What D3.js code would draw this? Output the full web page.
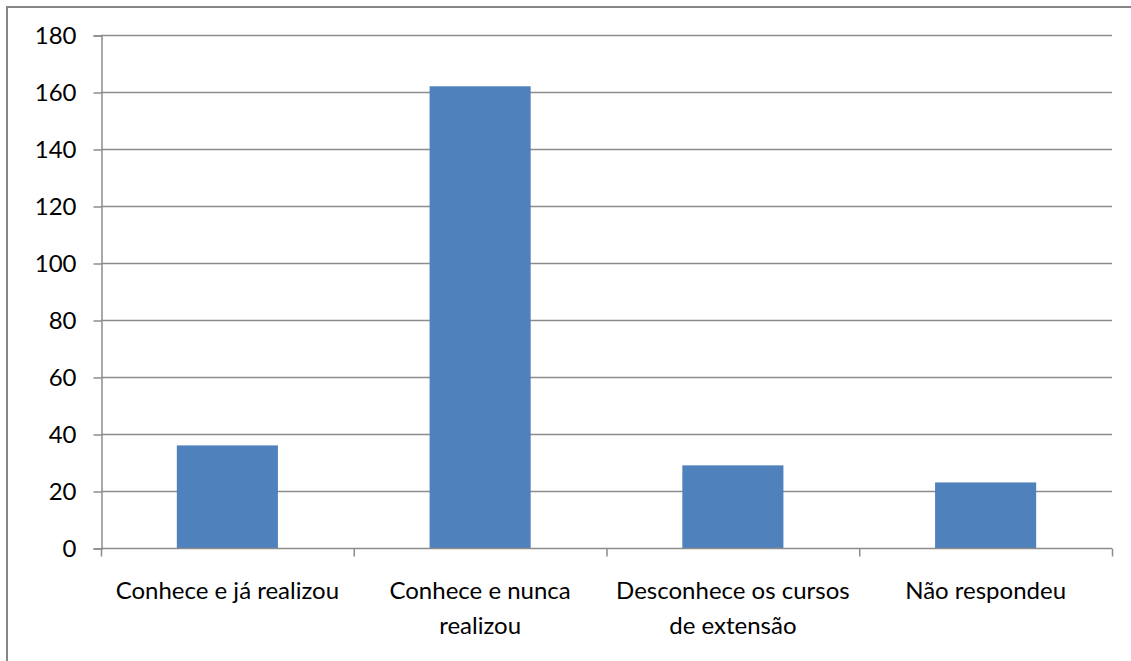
<!DOCTYPE html>
<html>
<head>
<meta charset="utf-8">
<script src="https://cdn.jsdelivr.net/npm/d3@7"></script>
<style>
  body { margin: 0; background: #fff; }
  svg text { font-family: Lato, "Open Sans", sans-serif; fill: #000; }
</style>
</head>
<body>
<div class="container"></div>
<script>
const categories = ["Conhece e já realizou", "Conhece e nunca realizou", "Desconhece os cursos de extensão", "Não respondeu"];
const labelLines = [["Conhece e já realizou"], ["Conhece e nunca", "realizou"], ["Desconhece os cursos", "de extensão"], ["Não respondeu"]];
const values = [36, 162, 29, 23];
const yTicks = [0, 20, 40, 60, 80, 100, 120, 140, 160, 180];

const W = 1131, H = 661;
const plot = { left: 101, right: 1112, top: 35, bottom: 548 };
const fontSize = 24;

const svg = d3.select(".container")
    .append("svg")
    .attr("width", W)
    .attr("height", H);

// outer frame
svg.append("rect")
    .attr("x", 7)
    .attr("y", 7)
    .attr("width", W + 10)
    .attr("height", H + 10)
    .attr("fill", "none")
    .attr("stroke", "#868686")
    .attr("stroke-width", 2);

const xScale = d3.scaleBand()
    .domain(categories)
    .range([plot.left, plot.right])
    .paddingInner(0.6)
    .paddingOuter(0.3);

const xOuter = d3.scaleBand()
    .domain(categories)
    .range([plot.left, plot.right]);

const yScale = d3.scaleLinear()
    .domain([0, 180])
    .range([plot.bottom, plot.top]);

// gridlines
svg.selectAll(".grid")
    .data(yTicks.filter(d => d > 0))
    .join("line")
    .classed("grid", true)
    .attr("x1", plot.left)
    .attr("x2", plot.right)
    .attr("y1", d => yScale(d) + 0.5)
    .attr("y2", d => yScale(d) + 0.5)
    .attr("stroke", "#8c8c8c")
    .attr("stroke-width", 1.5);

// bars
svg.selectAll(".bars")
    .data(values)
    .join("rect")
    .classed("bars", true)
    .attr("x", (d, i) => xScale(categories[i]))
    .attr("y", d => yScale(d))
    .attr("width", xScale.bandwidth())
    .attr("height", d => plot.bottom - yScale(d))
    .attr("fill", "#4f81bd");

// y axis
const yAxis = svg.append("g")
    .attr("transform", `translate(${plot.left + 0.5}, 0.5)`)
    .call(d3.axisLeft(yScale).tickValues(yTicks).tickSize(8).tickPadding(17));
yAxis.selectAll("line, path").attr("stroke", "#8c8c8c").attr("stroke-width", 1.5);
yAxis.selectAll("text")
    .attr("font-size", fontSize)
    .attr("font-family", "Lato, sans-serif")
    .attr("fill", "#000");

// x axis
const xAxis = svg.append("g")
    .attr("transform", `translate(0, ${plot.bottom + 0.5})`);
xAxis.append("line")
    .attr("x1", plot.left)
    .attr("x2", plot.right)
    .attr("stroke", "#8c8c8c")
    .attr("stroke-width", 1.5);
const bounds = categories.map(c => xOuter(c)).concat([plot.right]);
xAxis.selectAll(".xtick")
    .data(bounds)
    .join("line")
    .classed("xtick", true)
    .attr("x1", d => d + 0.5)
    .attr("x2", d => d + 0.5)
    .attr("y1", 0)
    .attr("y2", 8)
    .attr("stroke", "#8c8c8c")
    .attr("stroke-width", 1.5);

svg.selectAll(".label-cat")
    .data(labelLines)
    .join("text")
    .classed("label-cat", true)
    .attr("text-anchor", "middle")
    .attr("font-size", fontSize)
    .each(function(lines, i) {
        const cx = xOuter(categories[i]) + xOuter.bandwidth() / 2;
        d3.select(this).selectAll("tspan")
            .data(lines)
            .join("tspan")
            .attr("x", cx)
            .attr("y", (d, j) => 599 + j * 35)
            .text(d => d);
    });
</script>
</body>
</html>
